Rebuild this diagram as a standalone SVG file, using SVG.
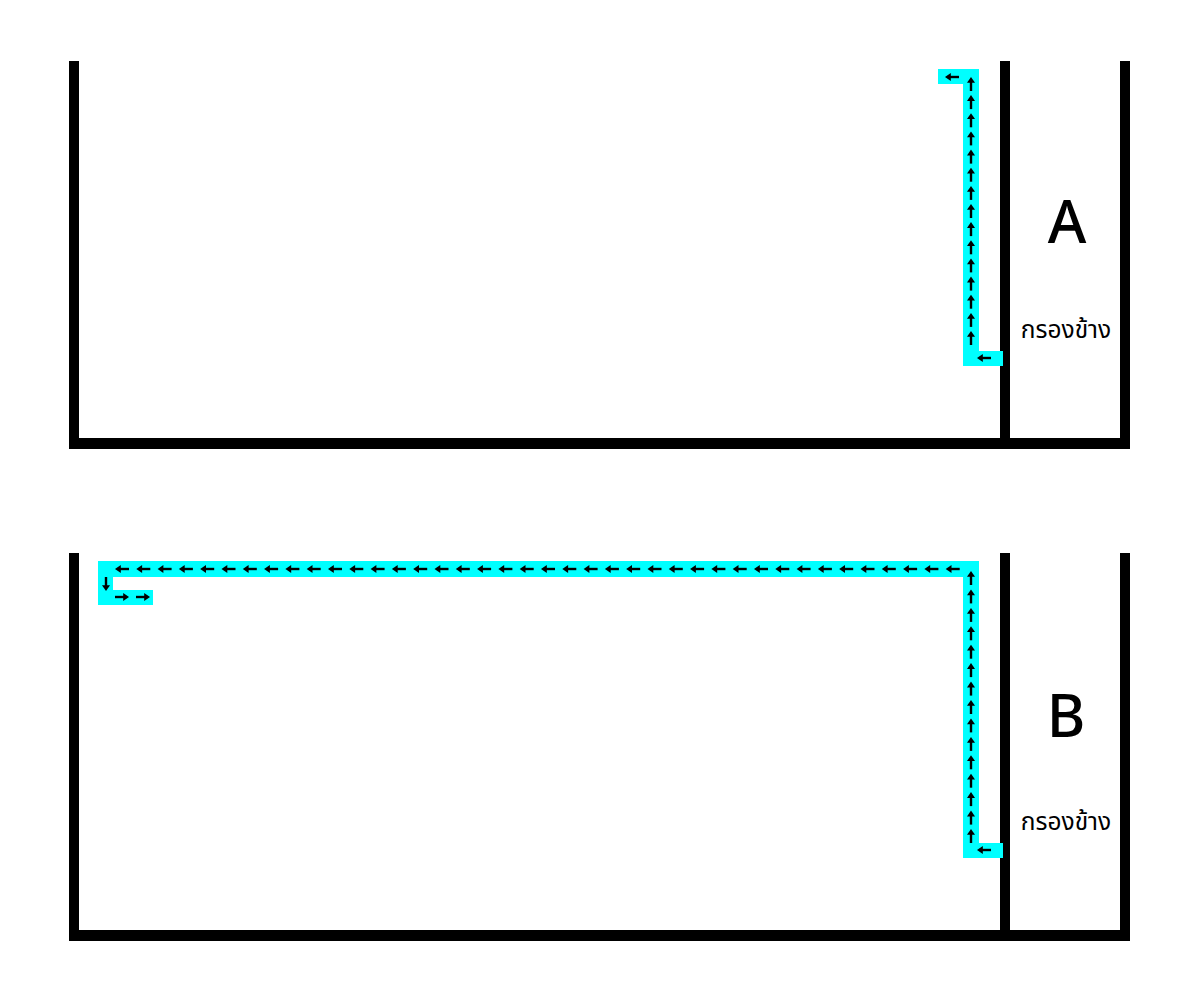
<svg xmlns="http://www.w3.org/2000/svg" xmlns:xlink="http://www.w3.org/1999/xlink" width="1181" height="998" viewBox="0 0 1181 998">
<style>
.wall{fill:#000}
.flow{fill:#00ffff}
.lbl{font-family:"Noto Sans","Liberation Sans",Arial,sans-serif;fill:#000;text-anchor:middle}
.big{font-size:59px;font-weight:500}
.th{font-family:"Noto Sans Thai","Noto Sans","DejaVu Sans",sans-serif;font-size:24.5px;font-weight:normal}
</style>
<defs>
<g id="al">
<path d="M-7,0 L-1.2,-4 L-1.2,4 Z" fill="#000"/>
<line x1="-2" y1="0" x2="7" y2="0" stroke="#000" stroke-width="2.4"/>
</g>
<use id="au" xlink:href="#al" transform="rotate(90)"/>
<use id="ar" xlink:href="#al" transform="rotate(180)"/>
<use id="ad" xlink:href="#al" transform="rotate(-90)"/>
</defs>
<rect width="1181" height="998" fill="#fff"/>
<g id="tankA">
<rect class="wall" x="69" y="61" width="10" height="388"/>
<rect class="wall" x="69" y="438" width="1061" height="11"/>
<rect class="wall" x="1000" y="61" width="10" height="380"/>
<rect class="wall" x="1120" y="61" width="10" height="388"/>
<text class="lbl big" x="1067" y="243">A</text>
<text class="lbl th" x="1066" y="338">กรองข้าง</text>
</g>
<g id="tankB">
<rect class="wall" x="69" y="553" width="10" height="388"/>
<rect class="wall" x="69" y="930" width="1061" height="11"/>
<rect class="wall" x="1000" y="553" width="10" height="380"/>
<rect class="wall" x="1120" y="553" width="10" height="388"/>
<text class="lbl big" x="1066" y="737">B</text>
<text class="lbl th" x="1066" y="830">กรองข้าง</text>
</g>
<g id="connectors">
<g id="flowA">
<path class="flow" d="M938,69 H979 V351 H1003 V366 H963 V84 H938 Z"/>
<use xlink:href="#al" x="952" y="77"/>
<use xlink:href="#al" x="984" y="358"/>
<g transform="translate(971,0)">
<use xlink:href="#au" x="0" y="84"/><use xlink:href="#au" x="0" y="102.1"/><use xlink:href="#au" x="0" y="120.3"/><use xlink:href="#au" x="0" y="138.4"/><use xlink:href="#au" x="0" y="156.6"/><use xlink:href="#au" x="0" y="174.7"/><use xlink:href="#au" x="0" y="192.9"/><use xlink:href="#au" x="0" y="211"/><use xlink:href="#au" x="0" y="229.1"/><use xlink:href="#au" x="0" y="247.3"/><use xlink:href="#au" x="0" y="265.4"/><use xlink:href="#au" x="0" y="283.6"/><use xlink:href="#au" x="0" y="301.7"/><use xlink:href="#au" x="0" y="319.9"/><use xlink:href="#au" x="0" y="338"/>
</g>
</g>
<g id="flowB">
<path class="flow" d="M98,561 H979 V843 H1003 V858 H963 V577 H113 V590 H153 V605 H98 Z"/>
<use xlink:href="#al" x="984" y="850"/>
<use xlink:href="#ad" x="106" y="584"/>
<use xlink:href="#ar" x="122" y="597"/>
<use xlink:href="#ar" x="143" y="597"/>
<g transform="translate(971,0)">
<use xlink:href="#au" x="0" y="578"/><use xlink:href="#au" x="0" y="596.4"/><use xlink:href="#au" x="0" y="614.9"/><use xlink:href="#au" x="0" y="633.3"/><use xlink:href="#au" x="0" y="651.7"/><use xlink:href="#au" x="0" y="670.1"/><use xlink:href="#au" x="0" y="688.6"/><use xlink:href="#au" x="0" y="707"/><use xlink:href="#au" x="0" y="725.4"/><use xlink:href="#au" x="0" y="743.9"/><use xlink:href="#au" x="0" y="762.3"/><use xlink:href="#au" x="0" y="780.7"/><use xlink:href="#au" x="0" y="799.1"/><use xlink:href="#au" x="0" y="817.6"/><use xlink:href="#au" x="0" y="836"/>
</g>
<g transform="translate(0,569)">
<use xlink:href="#al" x="122" y="0"/><use xlink:href="#al" x="143.3" y="0"/><use xlink:href="#al" x="164.6" y="0"/><use xlink:href="#al" x="185.9" y="0"/><use xlink:href="#al" x="207.2" y="0"/><use xlink:href="#al" x="228.5" y="0"/><use xlink:href="#al" x="249.8" y="0"/><use xlink:href="#al" x="271.1" y="0"/><use xlink:href="#al" x="292.4" y="0"/><use xlink:href="#al" x="313.7" y="0"/><use xlink:href="#al" x="335" y="0"/><use xlink:href="#al" x="356.3" y="0"/><use xlink:href="#al" x="377.6" y="0"/><use xlink:href="#al" x="398.9" y="0"/><use xlink:href="#al" x="420.2" y="0"/><use xlink:href="#al" x="441.5" y="0"/><use xlink:href="#al" x="462.8" y="0"/><use xlink:href="#al" x="484.1" y="0"/><use xlink:href="#al" x="505.4" y="0"/><use xlink:href="#al" x="526.7" y="0"/><use xlink:href="#al" x="548" y="0"/><use xlink:href="#al" x="569.3" y="0"/><use xlink:href="#al" x="590.6" y="0"/><use xlink:href="#al" x="611.9" y="0"/><use xlink:href="#al" x="633.2" y="0"/><use xlink:href="#al" x="654.5" y="0"/><use xlink:href="#al" x="675.8" y="0"/><use xlink:href="#al" x="697.1" y="0"/><use xlink:href="#al" x="718.4" y="0"/><use xlink:href="#al" x="739.7" y="0"/><use xlink:href="#al" x="761" y="0"/><use xlink:href="#al" x="782.3" y="0"/><use xlink:href="#al" x="803.6" y="0"/><use xlink:href="#al" x="824.9" y="0"/><use xlink:href="#al" x="846.2" y="0"/><use xlink:href="#al" x="867.5" y="0"/><use xlink:href="#al" x="888.8" y="0"/><use xlink:href="#al" x="910.1" y="0"/><use xlink:href="#al" x="931.4" y="0"/><use xlink:href="#al" x="952.7" y="0"/>
</g>
</g>
</g>
</svg>
